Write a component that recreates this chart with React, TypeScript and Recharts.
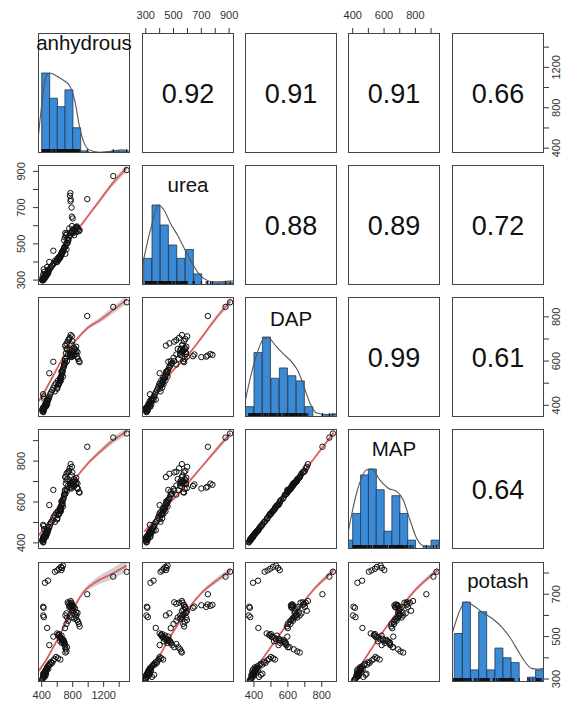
import React from 'react';
import { ComposedChart, XAxis, YAxis, Scatter, Line, Area, Bar } from 'recharts';

const variables = ['anhydrous', 'urea', 'DAP', 'MAP', 'potash'];

// one value per period, same order in every array
const anhydrousPrice = [
  1497, 1324, 988, 442, 481, 571, 600, 622, 648, 675, 662, 655, 418, 424, 420, 427, 470, 550, 498,
  770, 765, 775, 772, 785, 790, 800, 774, 760, 745, 735, 755, 720, 705, 790, 810, 825, 840, 855, 870,
  880, 890, 848, 820, 862, 700, 720, 740, 730, 690, 700, 712, 720, 705, 600, 612, 625, 635, 645, 655,
  665, 672, 680, 690, 660, 640, 705, 726, 410, 415, 420, 425, 430, 436, 440, 445, 450, 455, 460, 466,
  472, 478, 485, 492, 500, 510, 520, 535, 550, 565, 585, 610, 640, 432, 418, 426, 405, 448,
  428, 438, 446, 452, 458, 464, 470, 434, 442, 456, 618, 630, 650, 668, 685, 695,
  760, 780, 800, 815, 830, 845, 795, 785,
];
const ureaPrice = [
  907, 874, 747, 334, 356, 406, 418, 428, 442, 457, 450, 446, 308, 312, 305, 315, 372, 462, 400,
  780, 765, 745, 735, 700, 650, 640, 560, 540, 520, 505, 585, 470, 445, 598, 560, 575, 590, 596, 580,
  570, 576, 565, 548, 588, 480, 500, 520, 530, 520, 535, 548, 555, 560, 400, 410, 418, 425, 435, 440,
  450, 460, 468, 478, 455, 430, 490, 505, 300, 298, 305, 302, 310, 315, 320, 318, 325, 330, 335, 328,
  340, 345, 338, 352, 360, 365, 372, 380, 388, 395, 400, 412, 425, 345, 330, 360, 300, 322,
  306, 312, 318, 322, 326, 332, 336, 308, 316, 320, 414, 420, 438, 455, 472, 482,
  548, 560, 570, 580, 585, 592, 575, 565,
];
const dapPrice = [
  866, 845, 804, 394, 424, 463, 480, 496, 512, 530, 542, 552, 372, 376, 369, 378, 426, 597, 545,
  628, 632, 625, 620, 618, 630, 622, 718, 705, 695, 688, 700, 680, 670, 712, 640, 650, 632, 620, 610,
  600, 595, 645, 628, 640, 600, 615, 630, 655, 585, 610, 635, 655, 670, 475, 490, 500, 510, 522, 535,
  548, 560, 570, 582, 555, 518, 592, 600, 382, 386, 390, 384, 392, 396, 400, 404, 408, 395, 412, 418,
  405, 420, 426, 432, 440, 450, 458, 468, 478, 490, 500, 512, 524, 430, 450, 440, 376, 398,
  388, 394, 398, 402, 406, 410, 414, 392, 390, 396, 495, 505, 528, 552, 575, 588,
  650, 640, 645, 660, 655, 665, 690, 675,
];
const mapPrice = [
  935, 915, 870, 430, 460, 503, 520, 542, 555, 578, 586, 602, 405, 414, 402, 418, 462, 659, 585,
  684, 690, 675, 670, 666, 686, 678, 785, 765, 748, 745, 752, 738, 722, 772, 695, 700, 688, 668, 664,
  648, 646, 696, 678, 690, 652, 664, 680, 712, 636, 658, 690, 705, 722, 515, 535, 542, 556, 565, 584,
  592, 610, 615, 634, 605, 560, 640, 655, 415, 420, 430, 424, 428, 436, 440, 440, 448, 430, 452, 455,
  446, 460, 464, 474, 478, 492, 500, 508, 522, 534, 545, 555, 572, 468, 488, 482, 410, 438,
  426, 432, 436, 440, 444, 448, 452, 428, 428, 434, 538, 548, 572, 596, 622, 638,
  700, 692, 698, 712, 705, 718, 745, 730,
];
const potashPrice = [
  806, 783, 700, 754, 764, 806, 812, 820, 829, 835, 824, 814, 641, 636, 600, 592, 541, 500, 460,
  650, 645, 652, 640, 648, 642, 636, 668, 660, 655, 662, 640, 610, 600, 622, 620, 605, 590, 578, 570,
  560, 548, 600, 585, 612, 540, 560, 575, 590, 465, 450, 440, 430, 425, 515, 508, 512, 500, 495, 505,
  490, 480, 485, 475, 470, 478, 460, 450, 300, 305, 312, 318, 325, 330, 322, 335, 340, 345, 338, 350,
  355, 360, 348, 365, 372, 368, 380, 376, 388, 395, 404, 398, 392, 310, 325, 320, 296, 315,
  308, 316, 328, 332, 342, 346, 352, 320, 336, 326, 505, 498, 488, 482, 478, 470,
  600, 590, 628, 640, 632, 615, 650, 660,
];

const axisRanges: [number, number][] = [[352, 1540], [273, 935], [347, 890], [370, 957], [286, 852]];
const tickValues = [
  [400, 600, 800, 1000, 1200, 1400],
  [300, 400, 500, 600, 700, 800, 900],
  [400, 500, 600, 700, 800],
  [400, 500, 600, 700, 800, 900],
  [300, 400, 500, 600, 700, 800],
];
const tickLabels = [
  [400, 800, 1200],
  [300, 500, 700, 900],
  [400, 600, 800],
  [400, 600, 800],
  [300, 500, 700],
];

// upper triangle, row by row
const correlations = [0.92, 0.91, 0.91, 0.66, 0.88, 0.89, 0.72, 0.99, 0.61, 0.64];

// histogram bins (start of each bin) and counts
const anhydrousBins = [400, 500, 600, 700, 800, 900, 1000, 1100, 1200, 1300, 1400];
const anhydrousCounts = [38, 26, 22, 30, 12, 1, 0, 0, 0, 1, 1];
const ureaBins = [285, 345, 405, 465, 525, 585, 645, 705, 765, 825, 885];
const ureaCounts = [12, 36, 27, 18, 12, 16, 5, 0, 1, 1, 1];
const dapBins = [350, 400, 450, 500, 550, 600, 650, 700, 750, 800, 850];
const dapCounts = [4, 25, 31, 15, 19, 16, 14, 4, 0, 1, 1];
const mapBins = [350, 400, 450, 500, 550, 600, 650, 700, 750, 800, 850, 900];
const mapCounts = [3, 12, 25, 27, 20, 6, 18, 12, 3, 0, 1, 3];
const potashBins = [300, 350, 400, 450, 500, 550, 600, 650, 700, 750, 800];
const potashCounts = [20, 33, 5, 29, 5, 14, 10, 8, 0, 2, 5];

// density curves, height relative to the tallest bar
const densityAnhydrous = [[352, 0.16], [400, 0.6], [460, 0.97], [510, 1.0], [580, 0.97], [680, 0.91], [760, 0.84], [830, 0.64], [890, 0.32], [950, 0.12], [1030, 0.03], [1150, 0.01], [1300, 0.02], [1440, 0.04], [1540, 0.02]];
const densityUrea = [[274, 0.23], [334, 0.69], [394, 1.0], [430, 0.94], [478, 0.77], [526, 0.63], [574, 0.47], [622, 0.31], [670, 0.17], [718, 0.08], [790, 0.04], [850, 0.04], [910, 0.05], [935, 0.05]];
const densityDap = [[347, 0.19], [406, 0.71], [455, 0.97], [485, 0.99], [524, 0.9], [573, 0.79], [622, 0.69], [661, 0.57], [695, 0.38], [731, 0.17], [770, 0.05], [829, 0.03], [890, 0.04]];
const densityMap = [[370, 0.2], [425, 0.7], [489, 0.99], [521, 1.0], [574, 0.86], [627, 0.76], [681, 0.72], [723, 0.61], [766, 0.36], [804, 0.15], [850, 0.04], [904, 0.03], [957, 0.06]];
const densityPotash = [[286, 0.6], [374, 1.0], [414, 0.96], [474, 0.87], [535, 0.79], [595, 0.68], [645, 0.55], [695, 0.38], [736, 0.25], [775, 0.17], [816, 0.16], [852, 0.17]];

// loess smooths: [x, y, half width of the band]
const smoothUreaAnhydrous = [[365, 312, 6], [450, 350, 4], [550, 405, 4], [650, 460, 4], [750, 515, 4], [850, 570, 5], [1000, 655, 7], [1150, 740, 10], [1300, 825, 14], [1497, 918, 20]];
const smoothDapAnhydrous = [[365, 420, 8], [450, 470, 5], [550, 535, 4], [650, 600, 4], [750, 655, 4], [850, 698, 5], [1000, 752, 8], [1150, 785, 12], [1300, 825, 15], [1497, 878, 18]];
const smoothDapUrea = [[295, 392, 6], [400, 480, 4], [500, 560, 4], [600, 625, 4], [700, 705, 6], [800, 790, 10], [910, 872, 16]];
const smoothMapAnhydrous = [[365, 438, 8], [450, 480, 5], [550, 535, 4], [650, 605, 4], [750, 670, 4], [850, 722, 5], [1000, 790, 8], [1150, 845, 12], [1300, 895, 15], [1497, 945, 18]];
const smoothMapUrea = [[290, 455, 6], [400, 540, 4], [500, 615, 4], [600, 690, 4], [700, 770, 6], [800, 850, 10], [910, 936, 15]];
const smoothMapDap = [[360, 395, 4], [450, 490, 3], [550, 596, 3], [650, 702, 3], [750, 808, 4], [870, 938, 8]];
const smoothPotashAnhydrous = [[365, 340, 10], [450, 385, 6], [550, 450, 5], [650, 520, 5], [750, 595, 6], [850, 660, 7], [950, 715, 10], [1100, 758, 18], [1300, 795, 25], [1497, 835, 30]];
const smoothPotashUrea = [[295, 288, 8], [400, 410, 5], [500, 525, 5], [600, 625, 5], [700, 705, 8], [800, 760, 12], [910, 812, 18]];
const smoothPotashDap = [[360, 290, 8], [450, 395, 5], [550, 508, 5], [650, 618, 6], [750, 720, 8], [870, 812, 14]];
const smoothPotashMap = [[391, 290, 8], [500, 420, 5], [600, 530, 5], [700, 630, 6], [800, 720, 8], [944, 814, 14]];

const series = [anhydrousPrice, ureaPrice, dapPrice, mapPrice, potashPrice];
const histBins = [anhydrousBins, ureaBins, dapBins, mapBins, potashBins];
const histCounts = [anhydrousCounts, ureaCounts, dapCounts, mapCounts, potashCounts];
const densities = [densityAnhydrous, densityUrea, densityDap, densityMap, densityPotash];
const smoothers: Record<string, number[][]> = {
  '1-0': smoothUreaAnhydrous,
  '2-0': smoothDapAnhydrous,
  '2-1': smoothDapUrea,
  '3-0': smoothMapAnhydrous,
  '3-1': smoothMapUrea,
  '3-2': smoothMapDap,
  '4-0': smoothPotashAnhydrous,
  '4-1': smoothPotashUrea,
  '4-2': smoothPotashDap,
  '4-3': smoothPotashMap,
};

const FONT = '"Liberation Sans", Arial, Helvetica, sans-serif';
const COL_X = [38, 142, 245, 348, 452];
const ROW_Y = [33, 165, 297, 429, 562];
const PW = 92;
const PH = 120;
const AXIS = 30;
const PAD = 16; // room around each chart so tick labels are not cut
const LABEL_BASE = [17, 27, 29, 27, 26];

function tickRenderer(labels: number[], side: string) {
  return (props: any) => {
    const { x, y, payload } = props;
    if (!labels.includes(payload.value)) return <g />;
    if (side === 'left' || side === 'right') {
      return (
        <text x={x} y={y} transform={`rotate(-90 ${x} ${y})`} textAnchor="middle" fontSize={11} fill="#333" fontFamily={FONT}>
          {payload.value}
        </text>
      );
    }
    return (
      <text x={x} y={y} dy={side === 'bottom' ? '0.71em' : 0} textAnchor="middle" fontSize={11} fill="#333" fontFamily={FONT}>
        {payload.value}
      </text>
    );
  };
}

const pointShape = (p: any) => <circle cx={p.cx} cy={p.cy} r={2.7} fill="none" stroke="#111" strokeWidth={1} />;
const rugShape = (p: any) => <line x1={p.cx} x2={p.cx} y1={p.cy} y2={p.cy - 4} stroke="#111" strokeWidth={1} />;

function Panel({ r, c }: { r: number; c: number }) {
  const top = r === 0 && c % 2 === 1;
  const bottom = r === 4 && c % 2 === 0;
  const left = c === 0 && r % 2 === 1;
  const right = c === 4 && r % 2 === 0;
  const mt = top ? AXIS : 0;
  const mb = bottom ? AXIS : 0;
  const ml = left ? AXIS : 0;
  const mr = right ? AXIS : 0;
  const xSide = top ? 'top' : 'bottom';
  const ySide = right ? 'right' : 'left';

  const isDiag = r === c;
  const isScatter = r > c;

  let bins: { x: number; count: number }[] = [];
  let maxCount = 1;
  let density: { x: number; y: number }[] = [];
  let rug: { x: number; y: number }[] = [];
  if (isDiag) {
    const starts = histBins[r];
    const width = starts[1] - starts[0];
    bins = starts.map((s, i) => ({ x: s + width / 2, count: histCounts[r][i] }));
    maxCount = Math.max(...histCounts[r]);
    density = densities[r].map(([x, y]) => ({ x, y }));
    rug = series[r].map((v) => ({ x: v, y: 0 }));
  }

  let points: { x: number; y: number }[] = [];
  let smooth: { x: number; y: number; b: number }[] = [];
  if (isScatter) {
    points = series[c].map((v, i) => ({ x: v, y: series[r][i] }));
    smooth = smoothers[`${r}-${c}`].map(([x, y, b]) => ({ x, y, b }));
  }

  return (
    <div style={{ position: 'absolute', left: COL_X[c] - ml - PAD, top: ROW_Y[r] - mt - PAD }}>
      <ComposedChart
        width={PW + ml + mr + 2 * PAD}
        height={PH + mt + mb + 2 * PAD}
        margin={{ top: PAD, right: PAD, bottom: PAD, left: PAD }}
        data={isDiag ? bins : undefined}
        barCategoryGap={0}
        barGap={0}
      >
        <XAxis
          xAxisId="x"
          type="number"
          dataKey="x"
          domain={axisRanges[c]}
          allowDataOverflow
          hide={!top && !bottom}
          orientation={xSide as any}
          height={AXIS}
          ticks={tickValues[c]}
          interval={0}
          tickSize={5}
          tickMargin={top ? 9 : 4}
          axisLine={false}
          tickLine={{ stroke: '#333' }}
          tick={tickRenderer(tickLabels[c], xSide)}
        />
        <YAxis
          yAxisId="y"
          type="number"
          dataKey="y"
          domain={axisRanges[r]}
          allowDataOverflow
          hide={!left && !right}
          orientation={ySide as any}
          width={AXIS}
          ticks={tickValues[r]}
          interval={0}
          tickSize={5}
          tickMargin={right ? 11 : 8}
          axisLine={false}
          tickLine={{ stroke: '#333' }}
          tick={tickRenderer(tickLabels[r], ySide)}
        />
        {isDiag && <XAxis xAxisId="b" type="number" dataKey="x" domain={axisRanges[c]} allowDataOverflow hide />}
        {isDiag && <YAxis yAxisId="c" type="number" domain={[0, maxCount * 1.5]} allowDataOverflow hide />}
        {isDiag && <YAxis yAxisId="r" type="number" dataKey="y" domain={[0, 1.5]} allowDataOverflow hide />}
        {isDiag && (
          <Bar xAxisId="b" yAxisId="c" dataKey="count" fill="#3a8ad6" stroke="#22364e" strokeWidth={0.8} isAnimationActive={false} />
        )}
        {isDiag && (
          <Line xAxisId="x" yAxisId="r" data={density} dataKey="y" type="monotone" stroke="#555" strokeWidth={1.1} dot={false} isAnimationActive={false} />
        )}
        {isDiag && <Scatter xAxisId="x" yAxisId="r" data={rug} shape={rugShape} isAnimationActive={false} />}

        {isScatter && (
          <Area
            xAxisId="x"
            yAxisId="y"
            data={smooth}
            dataKey={(d: any) => [d.y - d.b, d.y + d.b]}
            type="monotone"
            stroke="none"
            fill="#bdbdbd"
            fillOpacity={0.7}
            isAnimationActive={false}
          />
        )}
        {isScatter && <Scatter xAxisId="x" yAxisId="y" data={points} shape={pointShape} isAnimationActive={false} />}
        {isScatter && (
          <Line xAxisId="x" yAxisId="y" data={smooth} dataKey="y" type="monotone" stroke="#de6060" strokeWidth={1.8} dot={false} isAnimationActive={false} />
        )}
      </ComposedChart>
    </div>
  );
}

export default function App() {
  const cells: { r: number; c: number }[] = [];
  for (let r = 0; r < 5; r++) for (let c = 0; c < 5; c++) cells.push({ r, c });
  const upper = cells.filter(({ r, c }) => c > r);

  return (
    <div style={{ position: 'absolute', left: 0, top: 0, width: 563, height: 704, overflow: 'hidden', background: '#fff' }}>
      {cells.map(({ r, c }) => (
        <Panel key={`${r}-${c}`} r={r} c={c} />
      ))}
      <svg width={563} height={704} style={{ position: 'absolute', left: 0, top: 0, pointerEvents: 'none' }}>
        {cells.map(({ r, c }) => (
          <rect key={`b${r}-${c}`} x={COL_X[c] + 0.5} y={ROW_Y[r] + 0.5} width={PW - 1} height={PH - 1} fill="none" stroke="#444" strokeWidth={1} />
        ))}
        {variables.map((name, i) => (
          <text key={name} x={COL_X[i] + PW / 2} y={ROW_Y[i] + LABEL_BASE[i]} textAnchor="middle" fontSize={20.5} fontFamily={FONT} fill="#111">
            {name}
          </text>
        ))}
        {upper.map(({ r, c }, k) => (
          <text key={`k${r}-${c}`} x={COL_X[c] + PW / 2} y={ROW_Y[r] + 70} textAnchor="middle" fontSize={27} fontFamily={FONT} fill="#111">
            {correlations[k].toFixed(2)}
          </text>
        ))}
      </svg>
    </div>
  );
}
